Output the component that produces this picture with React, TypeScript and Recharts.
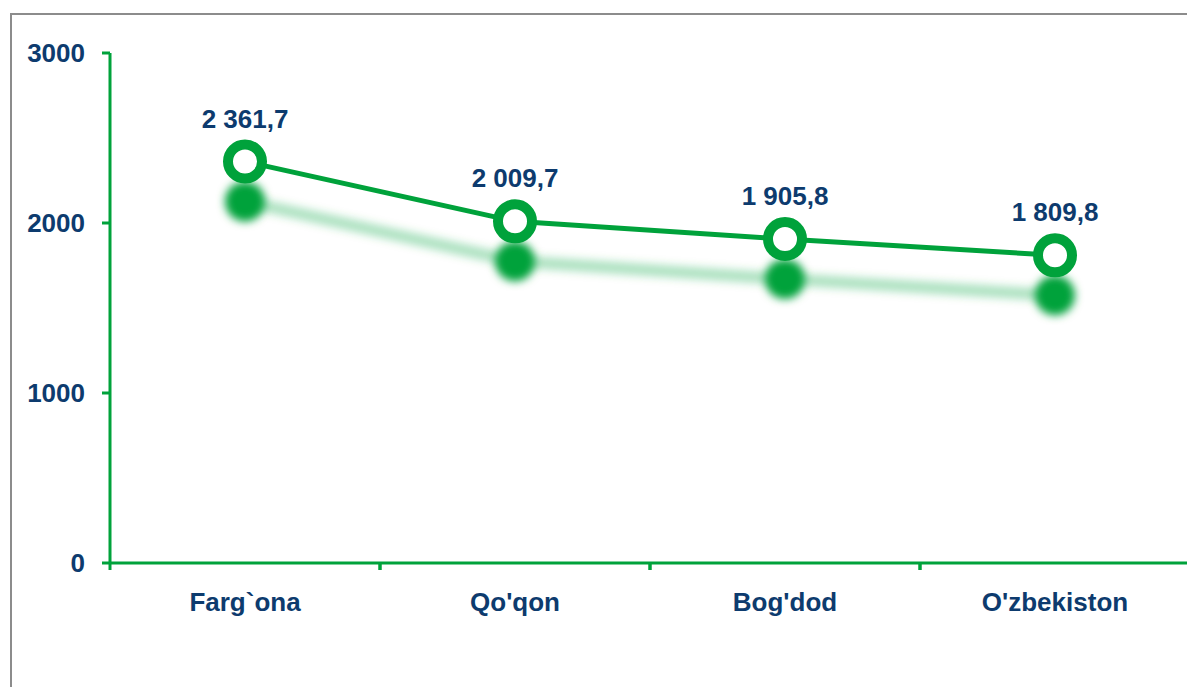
import React from 'react'
import { LineChart, Line, XAxis, YAxis, LabelList } from 'recharts'

const regions = ['Farg`ona', "Qo'qon", "Bog'dod", "O'zbekiston"]
const values = [2361.7, 2009.7, 1905.8, 1809.8]
const yTicks = [0, 1000, 2000, 3000]

const GREEN = '#00a23b'
const NAVY = '#0d3b6e'
const FONT = '"Liberation Sans", Arial, sans-serif'

const data = regions.map((name, i) => ({ name, value: values[i] }))

// 2361.7 -> "2 361,7"
const fmt = (v: number) => {
  const [int, dec] = v.toFixed(1).split('.')
  return `${int.replace(/\B(?=(\d{3})+(?!\d))/g, ' ')},${dec}`
}

const TICK_MARGIN = 30

// category label at the centre, tick mark at the left band edge
const XTick = (props: any) => {
  const { x, y, payload } = props
  const half = payload?.offset ?? 0
  const axisY = y - TICK_MARGIN
  return (
    <g>
      <line x1={x - half} x2={x - half} y1={axisY} y2={axisY + 7} stroke={GREEN} strokeWidth={3} />
      <line x1={x + half} x2={x + half} y1={axisY} y2={axisY + 7} stroke={GREEN} strokeWidth={3} />
      <text
        x={x}
        y={y}
        dy="0.71em"
        textAnchor="middle"
        fill={NAVY}
        fontSize={26}
        fontWeight="bold"
        fontFamily={FONT}
      >
        {payload.value}
      </text>
    </g>
  )
}

export default function App() {
  return (
    <div
      style={{
        position: 'fixed',
        left: 0,
        top: 0,
        width: 1187,
        height: 687,
        overflow: 'hidden',
        background: '#fff',
      }}
    >
      <svg width={0} height={0} style={{ position: 'absolute' }}>
        <defs>
          <filter id="dropShadow" filterUnits="userSpaceOnUse" x={0} y={0} width={1400} height={800}>
            <feOffset dx={0} dy={40} />
            <feGaussianBlur stdDeviation={4} />
          </filter>
        </defs>
      </svg>
      <div
        style={{
          position: 'absolute',
          left: 10,
          top: 13,
          width: 2000,
          height: 2000,
          border: '2px solid #8c8c8c',
        }}
      />
      <div style={{ position: 'absolute', left: 0, top: 0 }}>
        <LineChart
          width={1200}
          height={687}
          data={data}
          margin={{ top: 53, right: 10, left: 10, bottom: 64 }}
        >
          <XAxis
            dataKey="name"
            scale="band"
            height={60}
            axisLine={{ stroke: GREEN, strokeWidth: 3 }}
            tickLine={false}
            tickSize={0}
            tickMargin={TICK_MARGIN}
            tick={<XTick />}
            interval={0}
          />
          <YAxis
            width={100}
            domain={[0, 3000]}
            ticks={yTicks}
            interval={0}
            axisLine={{ stroke: GREEN, strokeWidth: 3 }}
            tickLine={{ stroke: GREEN, strokeWidth: 3 }}
            tickSize={8}
            tickMargin={17}
            tick={{ fill: NAVY, fontSize: 26, fontWeight: 'bold', fontFamily: FONT }}
          />
          <Line
            dataKey="value"
            type="linear"
            stroke={GREEN}
            strokeOpacity={0.32}
            strokeWidth={12}
            filter="url(#dropShadow)"
            dot={{ r: 20, fill: GREEN, stroke: 'none', filter: 'url(#dropShadow)' }}
            activeDot={false}
            isAnimationActive={false}
          />
          <Line
            dataKey="value"
            type="linear"
            stroke={GREEN}
            strokeWidth={5}
            dot={{ r: 17, fill: '#fff', stroke: GREEN, strokeWidth: 10 }}
            activeDot={false}
            isAnimationActive={false}
          >
            <LabelList
              dataKey="value"
              position="top"
              offset={34}
              formatter={(v: any) => fmt(Number(v))}
              fill={NAVY}
              fontSize={26}
              fontWeight="bold"
              fontFamily={FONT}
            />
          </Line>
        </LineChart>
      </div>
    </div>
  )
}
